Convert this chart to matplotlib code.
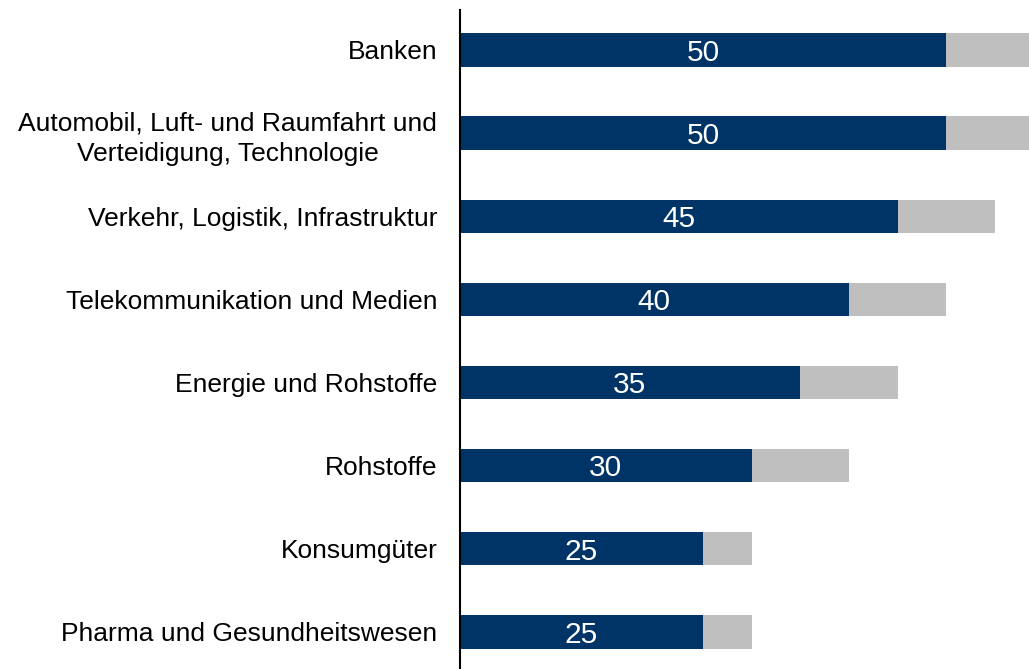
import matplotlib
matplotlib.use("Agg")
import matplotlib.pyplot as plt

categories = [
    "Banken",
    "Automobil, Luft- und Raumfahrt und\nVerteidigung, Technologie",
    "Verkehr, Logistik, Infrastruktur",
    "Telekommunikation und Medien",
    "Energie und Rohstoffe",
    "Rohstoffe",
    "Konsumgüter",
    "Pharma und Gesundheitswesen",
]
values_main = [50, 50, 45, 40, 35, 30, 25, 25]
values_extra = [10, 10, 10, 10, 10, 10, 5, 5]

plt.rcParams['font.family'] = ['Liberation Sans', 'DejaVu Sans']

fig = plt.figure(figsize=(10.29, 6.69), dpi=100)
ax = fig.add_axes([459.5 / 1029, 0.0, 1 - 459.5 / 1029, 659 / 669])

y = list(range(len(categories)))
navy = "#003366"
grey = "#BFBFBF"
ax.barh(y, values_main, height=0.4, color=navy, edgecolor="none")
ax.barh(y, values_extra, left=values_main, height=0.4, color=grey, edgecolor="none")

for yi, v in zip(y, values_main):
    ax.annotate(str(v), xy=(v / 2, yi), xytext=(0, -2), textcoords="offset points",
                ha="center", va="center", color="white", fontsize=21.5)

ax.set_yticks(y)
ax.set_yticklabels(categories, fontsize=19, multialignment="center", linespacing=1.33)
ax.tick_params(axis="y", length=0, pad=16)
ax.set_xticks([])
ax.set_xlim(0, 58.5)
ax.set_ylim(7.445, -0.48)
for s in ["top", "right", "bottom"]:
    ax.spines[s].set_visible(False)
ax.spines["left"].set_linewidth(1.5)
ax.spines["left"].set_color("black")

fig.savefig("out.png", dpi=100)
